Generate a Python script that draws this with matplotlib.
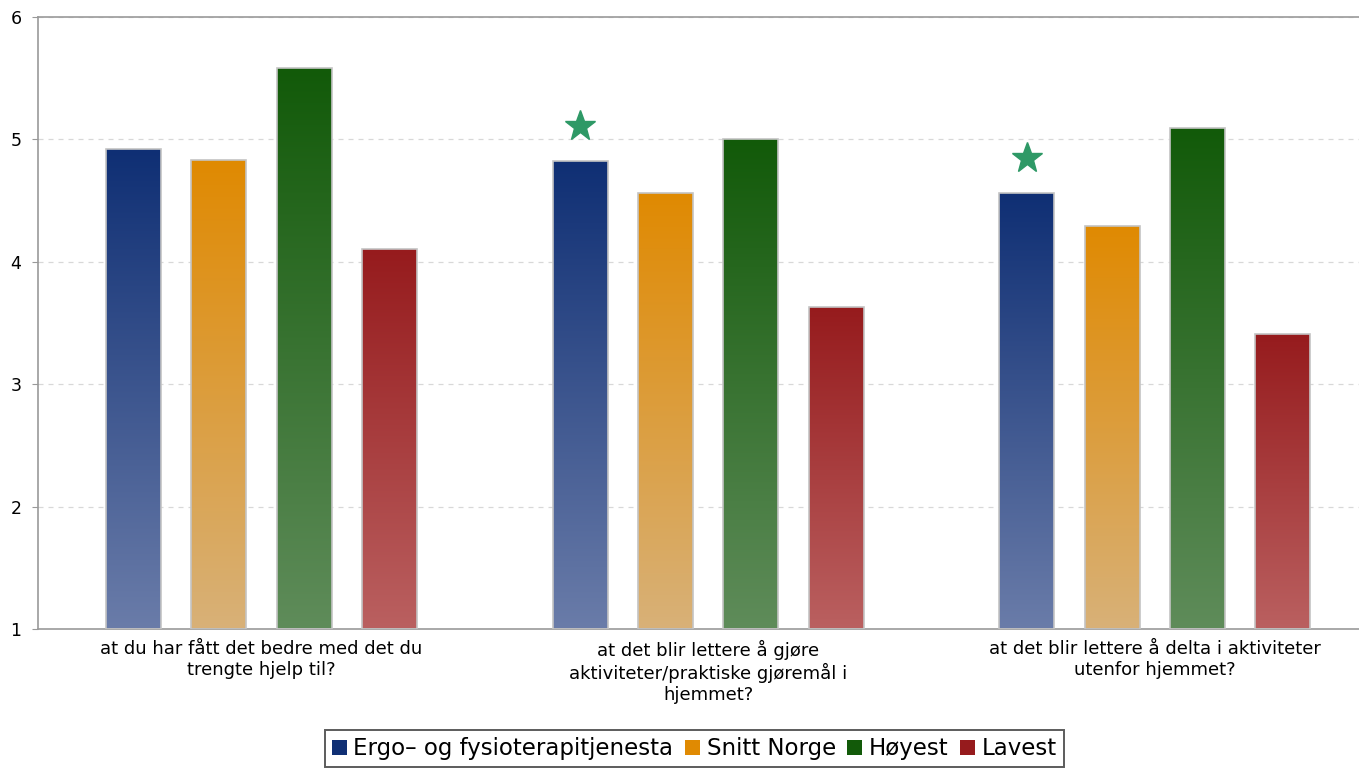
import numpy as np
import matplotlib.pyplot as plt
from matplotlib.colors import LinearSegmentedColormap
from matplotlib.patches import Patch

categories = [
    "at du har fått det bedre med det du\ntrengte hjelp til?",
    "at det blir lettere å gjøre\naktiviteter/praktiske gjøremål i\nhjemmet?",
    "at det blir lettere å delta i aktiviteter\nutenfor hjemmet?",
]
series = ["Ergo– og fysioterapitjenesta", "Snitt Norge", "Høyest", "Lavest"]
ergo = [4.92, 4.82, 4.56]
snitt = [4.83, 4.56, 4.29]
hoyest = [5.58, 5.00, 5.09]
lavest = [4.10, 3.63, 3.41]
# star marks the groups where the unit is flagged
star_groups = [1, 2]

values = [ergo, snitt, hoyest, lavest]
top_colors = ["#0f2f74", "#e08a02", "#125a09", "#961b1d"]
bottom_colors = ["#6a7ca9", "#d8b178", "#5f8c5a", "#ba6060"]

plt.rcParams["font.family"] = ["DejaVu Sans"]
fig = plt.figure(figsize=(13.59, 7.68), dpi=100)
ax = fig.add_axes([0.028, 0.181, 0.972, 0.797])

ymin, ymax = 1, 6
x = np.arange(len(categories))
offsets = [-1.5, -0.5, 0.5, 1.5]
step = 0.191
width = 0.123

for vals, off, ctop, cbot in zip(values, offsets, top_colors, bottom_colors):
    cmap = LinearSegmentedColormap.from_list("g", [cbot, ctop])
    bars = ax.bar(x + off * step, np.array(vals) - ymin, width, bottom=ymin,
                  color="none", edgecolor="#c4c4c4", linewidth=1.2, zorder=3)
    for b, v in zip(bars, vals):
        x0 = b.get_x()
        grad = np.linspace(0, 1, 256).reshape(-1, 1)
        im = ax.imshow(grad, cmap=cmap, origin="lower", aspect="auto",
                       extent=[x0, x0 + width, ymin, v], zorder=2)
        im.set_clip_path(b)

for g in star_groups:
    ax.plot(x[g] - 1.5 * step, ergo[g] + 0.29, marker="*", markersize=23,
            color="#2e9966", linestyle="none", zorder=4)

ax.set_xlim(-0.5, 2.457)
ax.set_ylim(ymin, ymax)
ax.set_yticks(range(1, 7))
ax.set_yticklabels([str(i) for i in range(1, 7)], fontsize=12.5)
ax.set_xticks(x)
ax.set_xticklabels(categories, fontsize=13, linespacing=1.2)
ax.tick_params(axis="x", length=0, pad=8)
ax.tick_params(axis="y", length=4, color="#999999", pad=8)
ax.yaxis.grid(True, linestyle=(0, (4, 4)), color="#d8d8d8", linewidth=0.9)
ax.set_axisbelow(True)
for s in ["left", "bottom", "top"]:
    ax.spines[s].set_color("#9a9a9a")
    ax.spines[s].set_linewidth(1.2)
ax.spines["right"].set_visible(False)

handles = [Patch(facecolor=c, edgecolor="none") for c in top_colors]
leg = fig.legend(handles, series, loc="center", bbox_to_anchor=(0.511, 0.025),
                 ncol=4, fontsize=16.5, frameon=True, fancybox=False,
                 handlelength=0.65, handleheight=0.65, handletextpad=0.3,
                 columnspacing=0.5, borderpad=0.3, borderaxespad=0)
leg.get_frame().set_edgecolor("#333333")
leg.get_frame().set_linewidth(1.4)

fig.savefig("out.png", dpi=100)
